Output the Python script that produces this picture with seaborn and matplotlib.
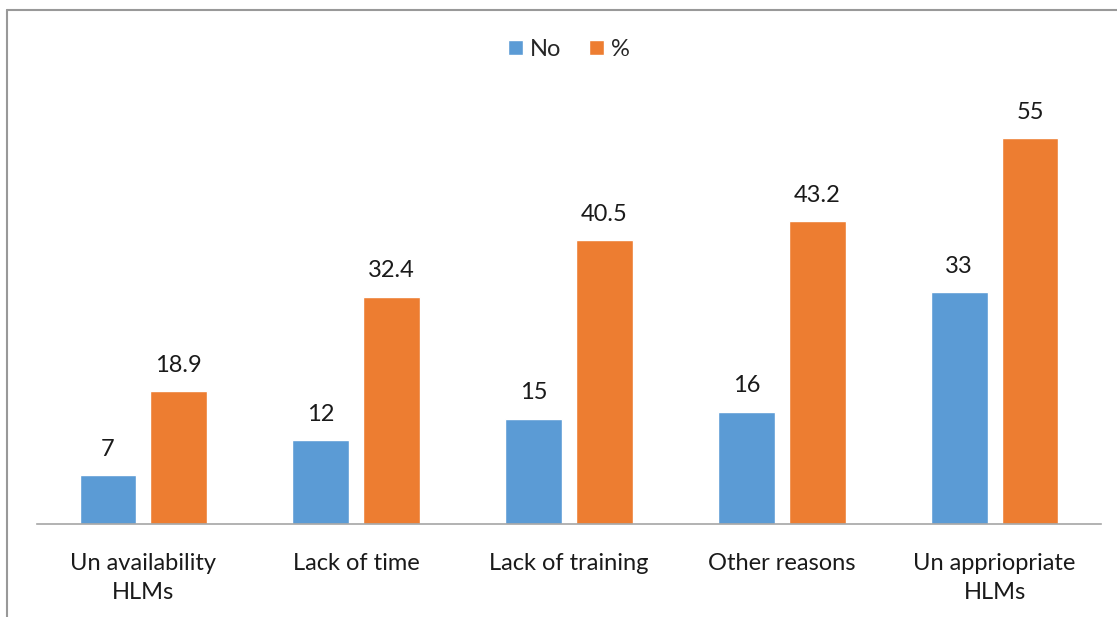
import pandas as pd
import matplotlib
matplotlib.use("Agg")
import matplotlib.pyplot as plt
import seaborn as sns

# Reasons for not using HLMs
categories = ["Un availability\nHLMs", "Lack of time", "Lack of training",
              "Other reasons", "Un appriopriate\nHLMs"]
no_values = [7, 12, 15, 16, 33]
pct_values = [18.9, 32.4, 40.5, 43.2, 55]
series = ["No", "%"]
colors = ["#5B9BD5", "#ED7D31"]

df = pd.DataFrame({
    "Reason": categories * 2,
    "Series": ["No"] * len(categories) + ["%"] * len(categories),
    "Value": no_values + pct_values,
})

sns.set_style("white")
plt.rcParams["font.family"] = ["Lato", "DejaVu Sans"]

fig = plt.figure(figsize=(11.17, 6.17), dpi=100)
ax = fig.add_axes([37 / 1117, 93 / 617, 1064 / 1117, 421 / 617])

sns.barplot(data=df, x="Reason", y="Value", hue="Series", hue_order=series,
            palette=colors, width=0.667, gap=0.2, saturation=1, ax=ax)

for cont, vals in zip(ax.containers, [no_values, pct_values]):
    ax.bar_label(cont, labels=[f"{v:g}" for v in vals], padding=11,
                 fontsize=17, color="#1a1a1a")

ax.set_ylim(0, 60)
ax.set_xlim(-0.5, 4.5)
ax.set_xlabel("")
ax.set_ylabel("")
ax.set_yticks([])
ax.tick_params(axis="x", length=0, pad=21, labelsize=17, labelcolor="#1a1a1a")
for lbl in ax.get_xticklabels():
    lbl.set_linespacing(1.45)
for side in ["top", "right", "left"]:
    ax.spines[side].set_visible(False)
ax.spines["bottom"].set_color("#A6A6A6")
ax.spines["bottom"].set_linewidth(1.2)

leg = ax.legend(loc="center", bbox_to_anchor=(0.5, 1.0 + (103 - 49) / 421),
                ncol=2, frameon=False, fontsize=17, handlelength=0.6,
                handleheight=0.6, handletextpad=0.3, columnspacing=1.2)

# outer chart frame (left and top edges visible)
fig.add_artist(plt.Line2D([7 / 1117, 7 / 1117], [0, 1 - 10 / 617],
                          transform=fig.transFigure, color="#999999", lw=1.5))
fig.add_artist(plt.Line2D([7 / 1117, 1], [1 - 10 / 617, 1 - 10 / 617],
                          transform=fig.transFigure, color="#999999", lw=1.5))

fig.savefig("out.png", dpi=100)
